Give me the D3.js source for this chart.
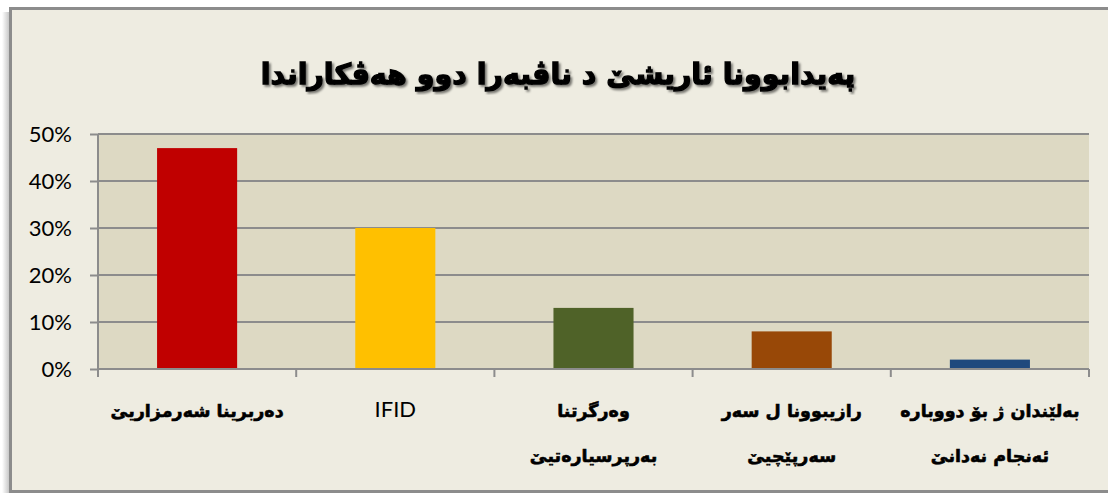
<!DOCTYPE html>
<html>
<head>
<meta charset="utf-8">
<script src="https://cdn.jsdelivr.net/npm/d3@7"></script>
<style>
  html, body { margin: 0; padding: 0; background: #ffffff; overflow: hidden; }
  svg { display: block; overflow: hidden; }
</style>
</head>
<body>
<div id="chart"></div>
<script>
// chart values
var title = "پەیدابوونا ئاریشێ د ناڤبەرا دوو هەڤکاراندا";
var categories = [
    ["دەربرینا شەرمزاریێ"],
    ["IFID"],
    ["وەرگرتنا", "بەرپرسیارەتیێ"],
    ["رازیبوونا ل سەر", "سەرپێچیێ"],
    ["بەلێندان ژ بۆ دووبارە", "ئەنجام نەدانێ"]
];
var values = [0.47, 0.30, 0.13, 0.08, 0.02];
var barColors = ["#C00000", "#FFC000", "#4F6228", "#984807", "#1F497D"];
var yTicks = [0, 0.1, 0.2, 0.3, 0.4, 0.5];

var width = 1108;
var height = 493;
var plot = { left: 98, right: 1089, top: 134, bottom: 369 };

var svg = d3.select("#chart")
            .append("svg")
            .attr("width", width)
            .attr("height", height);

var defs = svg.append("defs");
var leftShade = defs.append("linearGradient").attr("id", "leftShade")
    .attr("x1", 0).attr("x2", 1).attr("y1", 0).attr("y2", 0);
leftShade.append("stop").attr("offset", "0%").attr("stop-color", "#ffffff");
leftShade.append("stop").attr("offset", "100%").attr("stop-color", "#b8b8b8");
var titleShadow = defs.append("filter").attr("id", "titleShadow");
titleShadow.append("feDropShadow")
    .attr("dx", 2).attr("dy", 2).attr("stdDeviation", 1)
    .attr("flood-color", "#000").attr("flood-opacity", 0.5);

// outer frame, shadow on the left; right edge runs off the page
svg.append("rect")
   .attr("x", 2).attr("y", 12)
   .attr("width", 9).attr("height", 482)
   .attr("fill", "url(#leftShade)");
svg.append("path")
   .attr("d", "M" + (width + 20) + ",8.5H10.5V491.5H" + (width + 20))
   .attr("fill", "#EEECE1")
   .attr("stroke", "#8C8C8C")
   .attr("stroke-width", 3);

// title
svg.append("text")
   .attr("x", 558).attr("y", 84)
   .attr("text-anchor", "middle")
   .attr("direction", "rtl")
   .attr("font-family", "DejaVu Sans")
   .attr("font-weight", "bold")
   .attr("font-size", 28.5)
   .attr("fill", "#000")
   .attr("stroke", "#000")
   .attr("stroke-width", 1.3)
   .attr("filter", "url(#titleShadow)")
   .text(title);

// scales
var x = d3.scaleBand()
          .domain(d3.range(categories.length))
          .range([plot.left, plot.right])
          .paddingInner(0.596)
          .paddingOuter(0.298);

var y = d3.scaleLinear()
          .domain([0, 0.5])
          .range([plot.bottom, plot.top]);

// plot background
svg.append("rect")
   .attr("x", plot.left).attr("y", plot.top)
   .attr("width", plot.right - plot.left)
   .attr("height", plot.bottom - plot.top)
   .attr("fill", "#DDD9C3");

// gridlines
svg.append("g")
   .selectAll("line")
   .data(yTicks.filter(function(d) { return d > 0; }))
   .enter()
   .append("line")
   .attr("x1", plot.left).attr("x2", plot.right)
   .attr("y1", function(d) { return y(d); })
   .attr("y2", function(d) { return y(d); })
   .attr("stroke", "#8C8C8C")
   .attr("stroke-width", 2);

// bars
svg.append("g")
   .selectAll("rect")
   .data(values)
   .enter()
   .append("rect")
   .attr("x", function(d, i) { return x(i); })
   .attr("y", function(d) { return y(d); })
   .attr("width", x.bandwidth())
   .attr("height", function(d) { return y(0) - y(d); })
   .attr("fill", function(d, i) { return barColors[i]; });

// y axis
var yAxis = svg.append("g")
   .attr("transform", "translate(" + plot.left + ",0)")
   .call(d3.axisLeft(y).tickValues(yTicks).tickFormat(d3.format(".0%")).tickSize(8).tickPadding(18));
yAxis.select(".domain").remove();
yAxis.selectAll(".tick line").attr("stroke", "#8C8C8C").attr("stroke-width", 2);
yAxis.selectAll(".tick text")
     .attr("font-family", "Lato")
     .attr("font-size", 22)
     .attr("fill", "#000");
yAxis.append("line")
     .attr("x1", 0).attr("x2", 0)
     .attr("y1", plot.top).attr("y2", plot.bottom + 8)
     .attr("stroke", "#8C8C8C").attr("stroke-width", 2);

// x axis: line with ticks at band edges
var xAxis = svg.append("g");
xAxis.append("line")
     .attr("x1", plot.left).attr("x2", plot.right)
     .attr("y1", plot.bottom).attr("y2", plot.bottom)
     .attr("stroke", "#8C8C8C").attr("stroke-width", 2);
xAxis.selectAll("line.edge")
     .data(d3.range(categories.length + 1))
     .enter()
     .append("line")
     .attr("class", "edge")
     .attr("x1", function(d) { return plot.left + d * x.step(); })
     .attr("x2", function(d) { return plot.left + d * x.step(); })
     .attr("y1", plot.bottom).attr("y2", plot.bottom + 8)
     .attr("stroke", "#8C8C8C").attr("stroke-width", 2);

// category labels
var labels = xAxis.selectAll("text.cat")
     .data(categories)
     .enter()
     .append("text")
     .attr("class", "cat")
     .attr("text-anchor", "middle")
     .attr("direction", function(d, i) { return i == 1 ? "ltr" : "rtl"; })
     .attr("font-family", function(d, i) { return i == 1 ? "Lato" : "DejaVu Sans"; })
     .attr("font-weight", function(d, i) { return i == 1 ? "normal" : "bold"; })
     .attr("font-size", function(d, i) { return i == 1 ? 22 : 17.5; })
     .attr("stroke", function(d, i) { return i == 1 ? "none" : "#000"; })
     .attr("stroke-width", 0.6)
     .attr("fill", "#000");

labels.selectAll("tspan")
      .data(function(d, i) { return d.map(function(t) { return { t: t, i: i }; }); })
      .enter()
      .append("tspan")
      .attr("x", function(d) { return x(d.i) + x.bandwidth() / 2; })
      .attr("y", function(d, j) { return 417 + j * 45; })
      .text(function(d) { return d.t; });
</script>
</body>
</html>
